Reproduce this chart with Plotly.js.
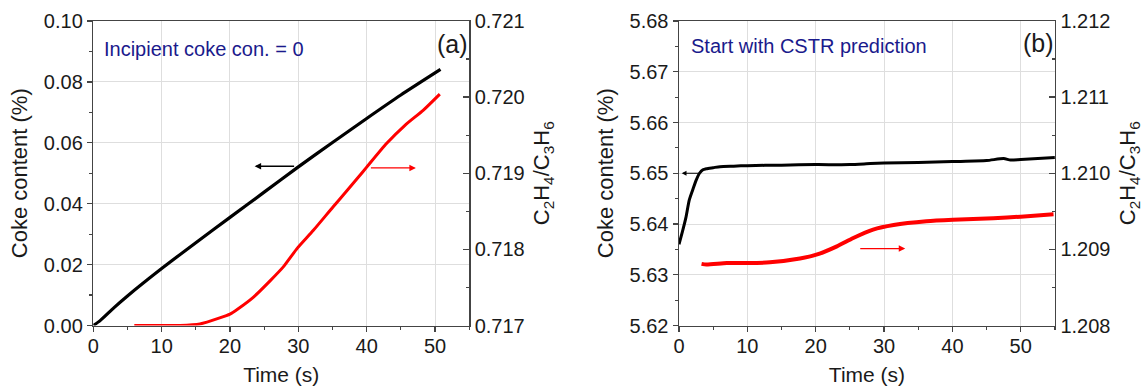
<!DOCTYPE html>
<html>
<head>
<meta charset="utf-8">
<script src="https://cdn.plot.ly/plotly-3.0.1.min.js"></script>
<style>
  html, body { margin: 0; padding: 0; background: #fff; }
  #chart { width: 1148px; height: 386px; }
</style>
</head>
<body>
<div id="chart"></div>
<script>
// ---- Panel (a): incipient coke concentration = 0 ----
const timeCokeA = [0, 1, 3, 5, 10, 15, 20, 25, 30, 35, 40, 45, 50.8];
const cokeA = [0, 0.0016, 0.0058, 0.0097, 0.0187, 0.0272, 0.0355, 0.0438, 0.0521, 0.0601, 0.0680, 0.0757, 0.0841];

const timeRatioA = [6, 10, 12.7, 15.6, 18.5, 20, 21.2, 23.4, 25.9, 27.8, 29.8, 32.2, 35.1, 37.1, 38.8, 40, 42.9, 45.6, 48.3, 50.7];
const ratioA = [0.717, 0.717, 0.717, 0.71702, 0.7171, 0.71715, 0.71722, 0.71737, 0.71759, 0.71777, 0.71801, 0.71825, 0.71856, 0.71877, 0.71895, 0.71908, 0.71939, 0.71963, 0.71983, 0.72004];

// ---- Panel (b): start with CSTR prediction ----
const timeCokeB = [0, 0.5, 1, 1.5, 2, 2.5, 3, 3.5, 4, 5, 6, 8, 10, 15, 20, 25, 28, 30, 35, 40, 45, 47.5, 48.5, 50, 55];
const cokeB = [5.6360, 5.6385, 5.6412, 5.6447, 5.6467, 5.6486, 5.6500, 5.6507, 5.6509, 5.6511, 5.6513, 5.6514, 5.6515, 5.6516, 5.6517, 5.6517, 5.6519, 5.6520, 5.6521, 5.6523, 5.6525, 5.6529, 5.6526, 5.6527, 5.6531];

const timeRatioB = [3.3, 4, 7, 10, 13.3, 17.7, 20.1, 23.1, 25.5, 28.4, 31.4, 36.2, 40.1, 46.0, 50, 54.8];
const ratioB = [1.20881, 1.20880, 1.20882, 1.20882, 1.20883, 1.20888, 1.20893, 1.20904, 1.20915, 1.20926, 1.20932, 1.20937, 1.20939, 1.20941, 1.20943, 1.20946];

// ---- Axis ticks / labels ----
const xTicks = [0, 10, 20, 30, 40, 50];
const yTicksA = [0, 0.02, 0.04, 0.06, 0.08, 0.10];
const y2TicksA = [0.717, 0.718, 0.719, 0.720, 0.721];
const yTicksB = [5.62, 5.63, 5.64, 5.65, 5.66, 5.67, 5.68];
const y2TicksB = [1.208, 1.209, 1.210, 1.211, 1.212];

const labelA = "Incipient coke con. = 0";
const labelB = "Start with CSTR prediction";
const panelA = "(a)";
const panelB = "(b)";
const xTitle = "Time (s)";
const yTitle = "Coke content (%)";
const y2Title = "C<sub>2</sub>H<sub>4</sub>/C<sub>3</sub>H<sub>6</sub>";

const FONT = "Liberation Sans, Arial, sans-serif";
const AX = "#444";
const GRID = "#dedede";
const TXT = "#1a1a1a";
const NAVY = "#1a1a8c";

const W = 1148, H = 386;
const px = v => v / W;
const py = v => 1 - v / H;

const xDomA = [px(93.3), px(469.2)];
const xDomB = [px(679), px(1054.9)];
const yDom = [py(325.5), py(21)];

function xAxis(domain, anchor) {
  return {
    domain: domain, anchor: anchor, range: [0, 55],
    tickvals: xTicks, ticks: "outside", ticklen: 5, tickwidth: 1.3, tickcolor: AX,
    minor: { dtick: 5, tick0: 0, ticks: "outside", ticklen: 3, tickcolor: AX, tickwidth: 1.2, showgrid: false },
    showline: true, linecolor: AX, linewidth: 1.5, mirror: true,
    showgrid: true, gridcolor: GRID, gridwidth: 1, zeroline: false,
    ticklabelstandoff: -3,
    tickfont: { family: FONT, size: 20, color: TXT },
    title: { text: xTitle, font: { family: FONT, size: 21, color: TXT }, standoff: 11 }
  };
}
function yLeft(domain, anchor, range, ticks, fmt, minorStep) {
  return {
    domain: domain, anchor: anchor, range: range,
    tickvals: ticks, tickformat: fmt, ticks: "outside", ticklen: 5, tickwidth: 1.3, tickcolor: AX,
    minor: { dtick: minorStep, tick0: range[0], ticks: "outside", ticklen: 3, tickcolor: AX, tickwidth: 1.2, showgrid: false },
    showline: true, linecolor: AX, linewidth: 1.5, mirror: false,
    showgrid: true, gridcolor: GRID, gridwidth: 1, zeroline: false,
    tickfont: { family: FONT, size: 20, color: TXT },
    title: { text: yTitle, font: { family: FONT, size: 22, color: TXT }, standoff: 10 }
  };
}
function yRight(overlay, anchor, range, ticks, fmt, minorStep) {
  return {
    overlaying: overlay, anchor: anchor, side: "right", range: range,
    tickvals: ticks, tickformat: fmt, ticks: "inside", ticklen: 6, tickwidth: 1.3, tickcolor: AX,
    minor: { dtick: minorStep, tick0: range[0], ticks: "inside", ticklen: 3, tickcolor: AX, tickwidth: 1.2, showgrid: false },
    showline: true, linecolor: AX, linewidth: 1.5,
    showgrid: false, zeroline: false,
    tickfont: { family: FONT, size: 20, color: TXT },
    title: { text: y2Title, font: { family: FONT, size: 22, color: TXT }, standoff: 10 }
  };
}

const traces = [
  { x: timeCokeA, y: cokeA, xaxis: "x", yaxis: "y", mode: "lines",
    line: { color: "#000", width: 3.2, shape: "spline", smoothing: 0.6 }, showlegend: false },
  { x: timeRatioA, y: ratioA, xaxis: "x", yaxis: "y2", mode: "lines",
    line: { color: "#ff0000", width: 3, shape: "spline", smoothing: 0.6 }, showlegend: false },
  { x: timeCokeB, y: cokeB, xaxis: "x2", yaxis: "y3", mode: "lines",
    line: { color: "#000", width: 3, shape: "spline", smoothing: 0.6 }, showlegend: false },
  { x: timeRatioB, y: ratioB, xaxis: "x2", yaxis: "y4", mode: "lines",
    line: { color: "#ff0000", width: 4, shape: "spline", smoothing: 0.6 }, showlegend: false }
];

const annotations = [
  { xref: "paper", yref: "paper", x: px(102), y: py(49), xanchor: "left", yanchor: "middle",
    text: labelA, showarrow: false, font: { family: FONT, size: 20, color: NAVY } },
  { xref: "paper", yref: "paper", x: px(470), y: py(44), xanchor: "right", yanchor: "middle",
    text: panelA, showarrow: false, font: { family: FONT, size: 25, color: TXT } },
  { xref: "paper", yref: "paper", x: px(689), y: py(46), xanchor: "left", yanchor: "middle",
    text: labelB, showarrow: false, font: { family: FONT, size: 20, color: NAVY } },
  { xref: "paper", yref: "paper", x: px(1056), y: py(43), xanchor: "right", yanchor: "middle",
    text: panelB, showarrow: false, font: { family: FONT, size: 25, color: TXT } },
  // arrows
  { xref: "x", yref: "y", axref: "x", ayref: "y", x: 23.6, y: 0.0523, ax: 29.6, ay: 0.0523,
    text: "", showarrow: true, arrowhead: 2, arrowsize: 1, arrowwidth: 1.3, arrowcolor: "#000" },
  { xref: "x", yref: "y2", axref: "x", ayref: "y2", x: 47.2, y: 0.71907, ax: 40.4, ay: 0.71907,
    text: "", showarrow: true, arrowhead: 2, arrowsize: 1, arrowwidth: 1.3, arrowcolor: "#ff0000" },
  { xref: "x2", yref: "y3", axref: "x2", ayref: "y3", x: 0.4, y: 5.65, ax: 3.1, ay: 5.65,
    text: "", showarrow: true, arrowhead: 2, arrowsize: 0.8, arrowwidth: 1.2, arrowcolor: "#000" },
  { xref: "x2", yref: "y4", axref: "x2", ayref: "y4", x: 33.1, y: 1.20901, ax: 26.3, ay: 1.20901,
    text: "", showarrow: true, arrowhead: 2, arrowsize: 1, arrowwidth: 1.3, arrowcolor: "#ff0000" }
];

const layout = {
  width: W, height: H,
  margin: { l: 0, r: 0, t: 0, b: 0 },
  paper_bgcolor: "#fff", plot_bgcolor: "#fff",
  showlegend: false,
  font: { family: FONT, color: TXT },
  xaxis: xAxis(xDomA, "y"),
  yaxis: yLeft(yDom, "x", [0, 0.10], yTicksA, ".2f", 0.01),
  yaxis2: yRight("y", "x", [0.717, 0.721], y2TicksA, ".3f", 0.0005),
  xaxis2: xAxis(xDomB, "y3"),
  yaxis3: yLeft(yDom, "x2", [5.62, 5.68], yTicksB, ".2f", 0.005),
  yaxis4: yRight("y3", "x2", [1.208, 1.212], y2TicksB, ".3f", 0.0005),
  annotations: annotations
};

Plotly.newPlot("chart", traces, layout, { staticPlot: true, displayModeBar: false });
</script>
</body>
</html>
